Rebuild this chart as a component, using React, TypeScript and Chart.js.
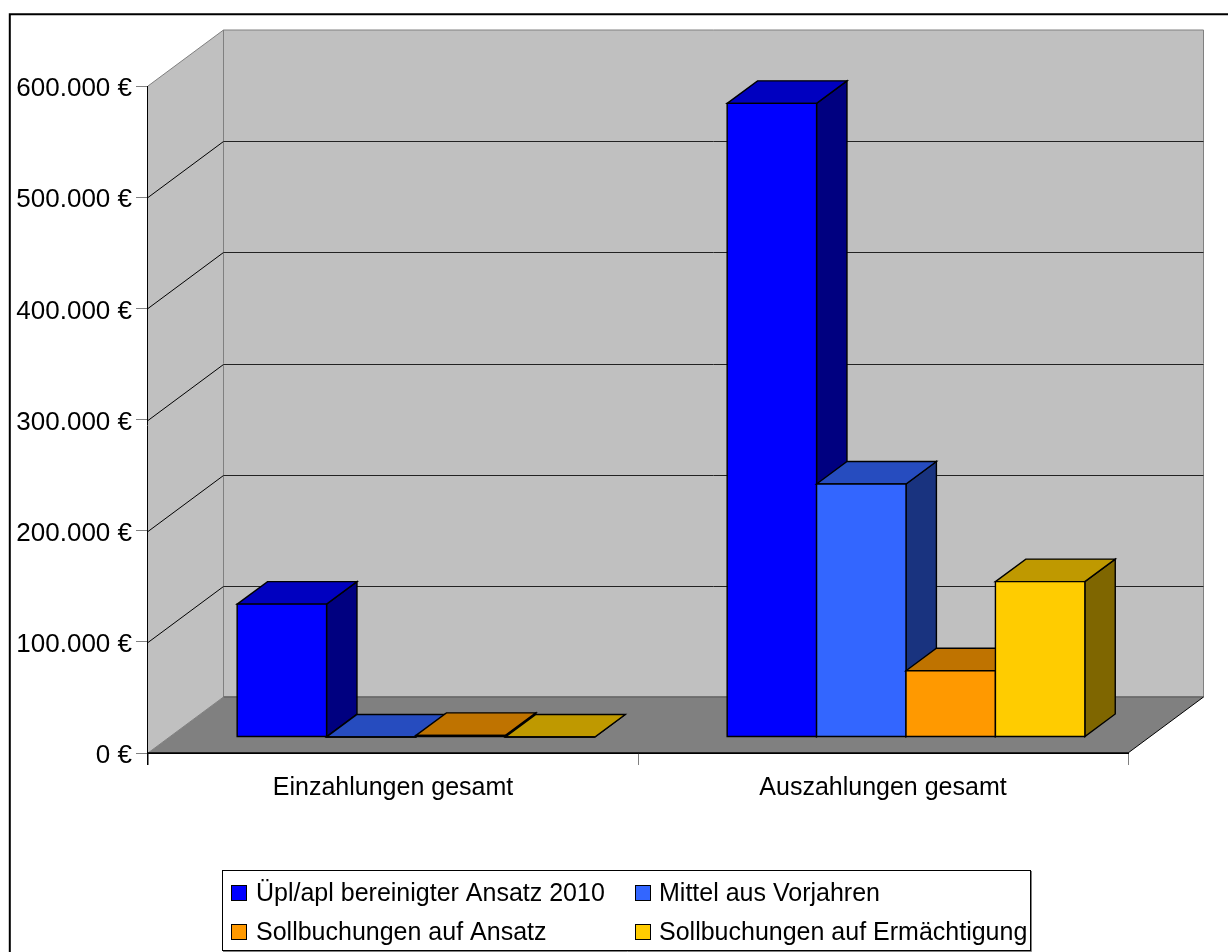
import React, { useEffect, useRef } from "react";
import { Chart, registerables } from "chart.js";

Chart.register(...registerables);

const categories = ["Einzahlungen gesamt", "Auszahlungen gesamt"];
const seriesNames = [
  "Üpl/apl bereinigter Ansatz 2010",
  "Mittel aus Vorjahren",
  "Sollbuchungen auf Ansatz",
  "Sollbuchungen auf Ermächtigung",
];
const ansatz = [119500, 570000];
const vorjahre = [0, 227600];
const sollAnsatz = [1500, 59600];
const sollErm = [0, 139800];
const seriesValues = [ansatz, vorjahre, sollAnsatz, sollErm];

const frontColors = ["#0000ff", "#3366ff", "#ff9900", "#ffcc00"];
const topColors = ["#0000c0", "#264cbf", "#bf7300", "#bf9900"];
const sideColors = ["#000080", "#19337f", "#7f4c00", "#7f6600"];

const FAMILY = '"Liberation Sans", Arial, sans-serif';
const FONT = `25px ${FAMILY}`;
const WALL = { dx: 75.5, dy: -56 };
const BAR_OFF = { dx: 23, dy: -16 };
const BAR_DEPTH = { dx: 30.4, dy: -22.5 };

function poly(ctx: CanvasRenderingContext2D, pts: number[][], fill?: string, stroke?: string, lw = 1) {
  ctx.beginPath();
  pts.forEach((p, i) => (i ? ctx.lineTo(p[0], p[1]) : ctx.moveTo(p[0], p[1])));
  ctx.closePath();
  if (fill) {
    ctx.fillStyle = fill;
    ctx.fill();
  }
  if (stroke) {
    ctx.strokeStyle = stroke;
    ctx.lineWidth = lw;
    ctx.stroke();
  }
}

function line(ctx: CanvasRenderingContext2D, x1: number, y1: number, x2: number, y2: number, color: string, lw = 1) {
  ctx.beginPath();
  ctx.moveTo(x1, y1);
  ctx.lineTo(x2, y2);
  ctx.strokeStyle = color;
  ctx.lineWidth = lw;
  ctx.stroke();
}

const scene3d = {
  id: "scene3d",
  beforeDraw(chart: any) {
    const { ctx, width, height } = chart;
    ctx.save();
    ctx.fillStyle = "#ffffff";
    ctx.fillRect(0, 0, width, height);
    ctx.beginPath();
    ctx.moveTo(9.8, height);
    ctx.lineTo(9.8, 14.2);
    ctx.lineTo(width, 14.2);
    ctx.strokeStyle = "#000000";
    ctx.lineWidth = 2;
    ctx.stroke();
    ctx.restore();
  },
  beforeDatasetsDraw(chart: any) {
    const { ctx, chartArea: a, scales } = chart;
    const yS = scales.y;
    const L = a.left;
    const R = a.right;
    const y0 = yS.getPixelForValue(0);
    const yTop = yS.getPixelForValue(600000);
    ctx.save();
    // side wall, back wall, floor
    poly(ctx, [[L, yTop], [L + WALL.dx, yTop + WALL.dy], [L + WALL.dx, y0 + WALL.dy], [L, y0]], "#c0c0c0");
    poly(ctx, [[L + WALL.dx, yTop + WALL.dy], [R + WALL.dx, yTop + WALL.dy], [R + WALL.dx, y0 + WALL.dy], [L + WALL.dx, y0 + WALL.dy]], "#c0c0c0", "#808080", 1);
    poly(ctx, [[L, y0], [R, y0], [R + WALL.dx, y0 + WALL.dy], [L + WALL.dx, y0 + WALL.dy]], "#808080");
    // grid lines
    yS.ticks.forEach((t: any) => {
      const y = Math.round(yS.getPixelForValue(t.value)) + 0.5;
      const v = t.value;
      if (v > 0 && v < 600000) {
        line(ctx, L, y, L + WALL.dx, y + WALL.dy, "#000000", 1);
        line(ctx, L + WALL.dx, y + WALL.dy, R + WALL.dx, y + WALL.dy, "#222222", 1);
      }
    });
    line(ctx, L, yTop, L + WALL.dx, yTop + WALL.dy, "#808080", 1);
    line(ctx, L, y0, L + WALL.dx, y0 + WALL.dy, "#808080", 1);
    line(ctx, L + WALL.dx, y0 + WALL.dy, R + WALL.dx, y0 + WALL.dy, "#666666", 1.5);
    line(ctx, R, y0, R + WALL.dx, y0 + WALL.dy, "#000000", 1);
    line(ctx, L, y0, R, y0, "#000000", 1.3);
    line(ctx, L - 0.5, yTop, L - 0.5, y0 + 12, "#000000", 1);

    // bars, left to right, each with its side and top faces
    ctx.translate(BAR_OFF.dx, BAR_OFF.dy);
    const d = BAR_DEPTH;
    const metas = seriesValues.map((_, i) => chart.getDatasetMeta(i));
    categories.forEach((_, c) => {
      metas.forEach((meta: any, i: number) => {
        const el = meta.data[c];
        const x1 = el.x - el.width / 2;
        const x2 = el.x + el.width / 2;
        const t = el.y;
        const b = el.base;
        poly(ctx, [[x2, t], [x2 + d.dx, t + d.dy], [x2 + d.dx, b + d.dy], [x2, b]], sideColors[i], "#000000", 1.4);
        poly(ctx, [[x1, t], [x1 + d.dx, t + d.dy], [x2 + d.dx, t + d.dy], [x2, t]], topColors[i], "#000000", 1.4);
        el.draw(ctx);
        poly(ctx, [[x1, t], [x2, t], [x2, b], [x1, b]], undefined, "#000000", 1.4);
      });
    });
    ctx.restore();
  },
  beforeDatasetDraw() {
    return false;
  },
  afterDraw(chart: any) {
    const { ctx } = chart;
    ctx.save();
    ctx.fillStyle = "#ffffff";
    ctx.fillRect(222.5, 870.5, 808, 80);
    ctx.strokeStyle = "#000000";
    ctx.lineWidth = 1;
    ctx.strokeRect(222.5, 870.5, 808, 80);
    line(ctx, 1031.5, 871, 1031.5, 951.5, "#808080", 1);
    line(ctx, 223, 951.5, 1031.5, 951.5, "#808080", 1);
    const cols = [231.5, 635.5];
    const rows = [885.5, 924.5];
    ctx.font = FONT;
    ctx.textBaseline = "middle";
    ctx.textAlign = "left";
    seriesNames.forEach((name, i) => {
      const x = cols[i % 2];
      const y = rows[Math.floor(i / 2)];
      ctx.fillStyle = frontColors[i];
      ctx.fillRect(x, y, 15, 15);
      ctx.strokeStyle = "#000000";
      ctx.lineWidth = 1;
      ctx.strokeRect(x, y, 15, 15);
      ctx.fillStyle = "#000000";
      ctx.fillText(name, i % 2 ? x + 23.5 : x + 24.5, y + 9);
    });
    ctx.restore();
  },
};

export default function App() {
  const ref = useRef<HTMLCanvasElement | null>(null);
  useEffect(() => {
    if (!ref.current) return;
    const chart = new Chart(ref.current, {
      type: "bar",
      data: {
        labels: categories,
        datasets: seriesNames.map((name, i) => ({
          label: name,
          data: seriesValues[i],
          backgroundColor: frontColors[i],
          borderWidth: 0,
          categoryPercentage: 0.73,
          barPercentage: 1,
        })),
      },
      plugins: [scene3d],
      options: {
        responsive: false,
        animation: false,
        layout: { padding: { left: 0, top: 86, right: 100, bottom: 99 } },
        plugins: { legend: { display: false }, tooltip: { enabled: false }, title: { display: false } },
        scales: {
          x: {
            afterFit: (s: any) => {
              s.height = 100;
            },
            grid: { drawOnChartArea: false, drawTicks: true, tickLength: 12, tickColor: "#808080", offset: true },
            border: { display: true, color: "#000000" },
            ticks: { color: "#000000", font: { family: FAMILY, size: 25 }, maxRotation: 0, padding: 8 },
          },
          y: {
            min: 0,
            max: 600000,
            afterFit: (s: any) => {
              s.width = 148;
            },
            grid: { drawOnChartArea: false, drawTicks: true, tickLength: 12, tickColor: "#808080" },
            border: { display: true, color: "#000000" },
            ticks: {
              stepSize: 100000,
              color: "#000000",
              padding: 4,
              labelOffset: 3,
              font: { family: FAMILY, size: 26 },
              callback: (v: any) => `${String(v).replace(/\B(?=(\d{3})+$)/g, ".")} €`,
            },
          },
        },
      },
    } as any);
    return () => chart.destroy();
  }, []);
  return (
    <canvas
      ref={ref}
      width={1228}
      height={952}
      style={{ position: "absolute", left: 0, top: 0, display: "block" }}
    />
  );
}
